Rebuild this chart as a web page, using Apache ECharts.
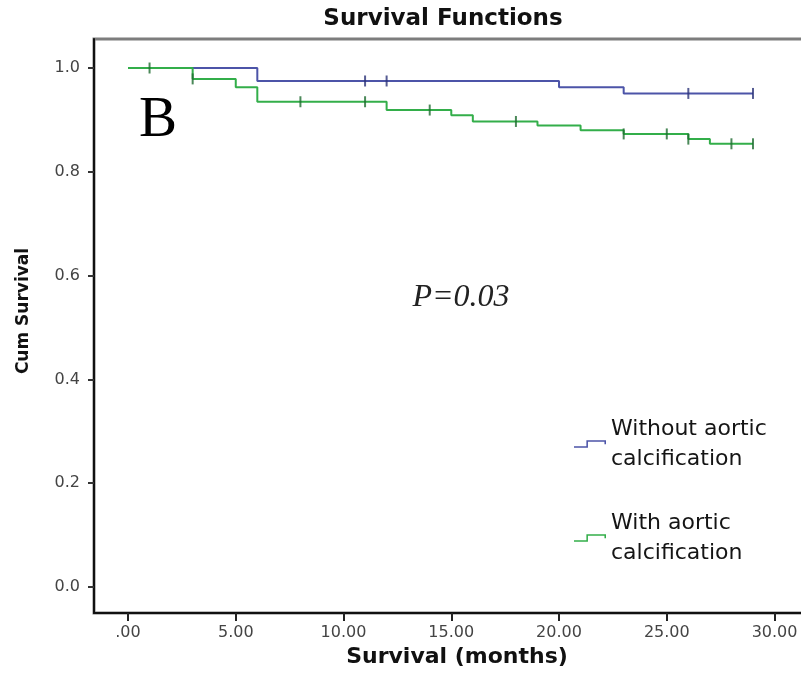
<!DOCTYPE html>
<html>
<head>
<meta charset="utf-8">
<script src="https://cdn.jsdelivr.net/npm/echarts@6/dist/echarts.min.js"></script>
<style>
html,body{margin:0;padding:0;background:#fff;}
#chart{width:801px;height:673px;}
</style>
</head>
<body>
<div id="chart"></div>
<script>
// ---- data ----
const xTicks = [0, 5, 10, 15, 20, 25, 30];
const xTickLabels = ['.00', '5.00', '10.00', '15.00', '20.00', '25.00', '30.00'];
const yTicks = [0, 0.2, 0.4, 0.6, 0.8, 1.0];
const yTickLabels = ['0.0', '0.2', '0.4', '0.6', '0.8', '1.0'];

const seriesNames = ['Without aortic calcification', 'With aortic calcification'];

// Kaplan-Meier step data (time of event, survival after event)
const withoutTimes = [0, 6, 20, 23, 29];
const withoutSurv  = [1.0, 0.975, 0.963, 0.951, 0.951];
const withoutCensor = [11, 12, 26, 29];

const withTimes = [0, 3, 5, 6, 12, 15, 16, 19, 21, 23, 26, 27, 29];
const withSurv  = [1.0, 0.979, 0.963, 0.935, 0.919, 0.909, 0.897, 0.889, 0.880, 0.873, 0.863, 0.854, 0.854];
const withCensor = [1, 3, 8, 11, 14, 18, 23, 25, 26, 28, 29];

const pText = 'P=0.03';
const panelLetter = 'B';

// ---- helpers ----
function stepPairs(times, surv) { return times.map((t, i) => [t, surv[i]]); }
function survAt(times, surv, t) {
  let v = surv[0];
  for (let i = 0; i < times.length; i++) { if (times[i] <= t) v = surv[i]; }
  return v;
}
function censorPairs(times, surv, cens) { return cens.map(t => [t, survAt(times, surv, t)]); }

const blue = '#4c54a8';
const green = '#33ae4a';

const chart = echarts.init(document.getElementById('chart'));
chart.setOption({
  animation: false,
  backgroundColor: '#fff',
  title: {
    text: 'Survival Functions',
    left: 443, top: 8, padding: 0,
    textAlign: 'center',
    textStyle: { fontFamily: 'DejaVu Sans', fontWeight: 'bold', fontSize: 23, color: '#111' }
  },
  grid: {
    left: 94, top: 39, right: -5, bottom: 60,
    outerBoundsMode: 'none',
    containLabel: false,
    show: true, borderColor: '#7d7d7d', borderWidth: 3, backgroundColor: '#fff'
  },
  legend: {
    orient: 'vertical',
    left: 574, top: 414, padding: 0,
    itemGap: 34,
    itemWidth: 32, itemHeight: 8,
    data: seriesNames,
    icon: 'path://M0,6.5 H12 V0.5 H31 V4.5 H29.5 V2 H13.5 V8 H0 Z',
    itemStyle: { borderWidth: 0 },
    formatter: n => n.replace(' calcification', '\ncalcification'),
    textStyle: { fontFamily: 'DejaVu Sans', fontSize: 22, lineHeight: 30, color: '#151515' }
  },
  xAxis: {
    type: 'value',
    min: -1.578, max: 31.46,
    name: 'Survival (months)',
    nameLocation: 'middle',
    nameGap: 33,
    nameTextStyle: { fontFamily: 'DejaVu Sans', fontWeight: 'bold', fontSize: 22, color: '#111', padding: [0, 0, 0, 14] },
    axisLine: { show: true, onZero: false, lineStyle: { color: '#111', width: 2 } },
    axisTick: { show: true, customValues: xTicks, length: 8, lineStyle: { color: '#222', width: 2 } },
    axisLabel: {
      customValues: xTicks, margin: 12,
      formatter: v => xTickLabels[xTicks.indexOf(v)],
      fontFamily: 'DejaVu Sans', fontSize: 16, color: '#444'
    },
    splitLine: { show: false }
  },
  yAxis: {
    type: 'value',
    min: -0.0501, max: 1.0559,
    name: 'Cum Survival',
    nameLocation: 'middle',
    nameGap: 62,
    nameRotate: 90,
    nameTextStyle: { fontFamily: 'DejaVu Sans', fontWeight: 'bold', fontSize: 17, color: '#111', padding: [0, 0, 0, 30] },
    axisLine: { show: true, onZero: false, lineStyle: { color: '#111', width: 2 } },
    axisTick: { show: true, customValues: yTicks, length: 6, lineStyle: { color: '#333', width: 2 } },
    axisLabel: {
      customValues: yTicks, margin: 14,
      formatter: v => yTickLabels[yTicks.indexOf(v)],
      fontFamily: 'DejaVu Sans', fontSize: 16, color: '#444'
    },
    splitLine: { show: false }
  },
  series: [
    {
      name: seriesNames[0], type: 'line', step: 'end',
      data: stepPairs(withoutTimes, withoutSurv),
      showSymbol: false, symbol: 'none',
      color: blue, itemStyle: { color: blue },
      lineStyle: { color: blue, width: 2 }, z: 3
    },
    {
      name: seriesNames[1], type: 'line', step: 'end',
      data: stepPairs(withTimes, withSurv),
      showSymbol: false, symbol: 'none',
      color: green, itemStyle: { color: green },
      lineStyle: { color: green, width: 2 }, z: 3
    },
    {
      type: 'scatter',
      data: censorPairs(withoutTimes, withoutSurv, withoutCensor),
      symbol: 'rect', symbolSize: [2, 11],
      itemStyle: { color: '#2c3378' }, z: 4
    },
    {
      type: 'scatter',
      data: censorPairs(withTimes, withSurv, withCensor),
      symbol: 'rect', symbolSize: [2, 11],
      itemStyle: { color: '#1e6b30' }, z: 4
    }
  ],
  graphic: [
    {
      type: 'text', x: 158, y: 121, z: 10,
      style: { text: panelLetter, font: '57px "Liberation Serif"', fill: '#000', align: 'center', verticalAlign: 'middle' }
    },
    {
      type: 'text', x: 461, y: 298, z: 10,
      style: { text: pText, font: 'italic 32px "Liberation Serif"', fill: '#222', align: 'center', verticalAlign: 'middle' }
    }
  ]
});
</script>
</body>
</html>
